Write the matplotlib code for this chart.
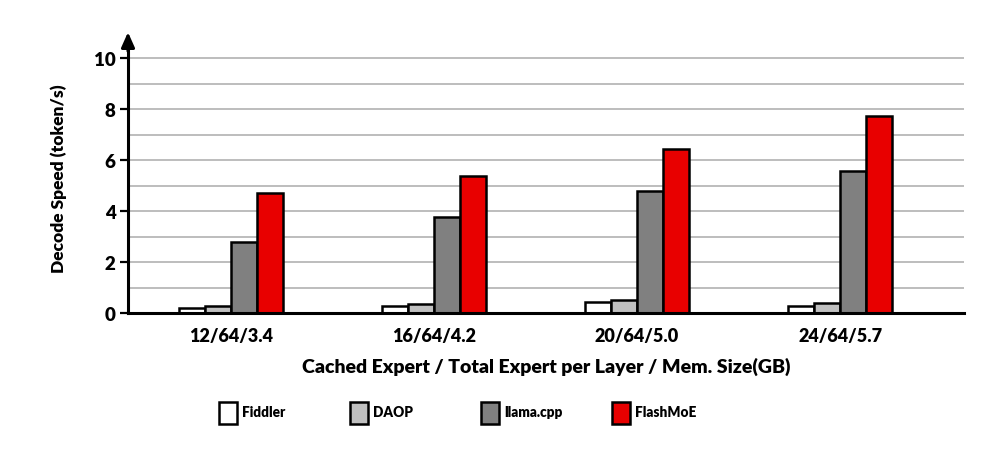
import matplotlib
matplotlib.use("Agg")
import matplotlib.pyplot as plt
from matplotlib.patches import Rectangle

plt.rcParams['font.family'] = ['Lato', 'DejaVu Sans']
plt.rcParams['font.weight'] = 'heavy'

categories = ["12/64/3.4", "16/64/4.2", "20/64/5.0", "24/64/5.7"]
series_names = ["Fiddler", "DAOP", "llama.cpp", "FlashMoE"]
fiddler = [0.21, 0.28, 0.44, 0.29]
daop = [0.26, 0.37, 0.50, 0.39]
llama = [2.80, 3.77, 4.79, 5.57]
flashmoe = [4.71, 5.39, 6.44, 7.75]
values = [fiddler, daop, llama, flashmoe]
colors = ["#ffffff", "#c0c0c0", "#808080", "#e80000"]
yticks = [0, 2, 4, 6, 8, 10]
FW = "heavy"

W, H = 997, 460
fig = plt.figure(figsize=(W / 100, H / 100), dpi=100)
ax = fig.add_axes([128 / W, 1 - 314 / H, (964 - 128) / W, (314 - 44) / H])

bw = 0.128
n = len(series_names)
for k, (name, vals, c) in enumerate(zip(series_names, values, colors)):
    xs = [i + (k - (n - 1) / 2) * bw for i in range(len(categories))]
    ax.bar(xs, vals, width=bw, color=c, edgecolor="black", linewidth=1.8,
           label=name, zorder=3)

ax.set_xlim(-0.507, 3.61)
ax.set_ylim(0, 10.6)
for v in range(1, 11):
    ax.axhline(v, color="#bdbdbd", linewidth=1.4, zorder=1)

ax.set_yticks(yticks)
ax.set_yticklabels([str(t) for t in yticks], fontsize=13.5, fontweight=FW)
ax.set_xticks(range(len(categories)))
ax.set_xticklabels(categories, fontsize=13, fontweight=FW)
ax.tick_params(axis="x", length=0, pad=10)
ax.tick_params(axis="y", length=6, width=1.6, pad=3)

for s in ["top", "right"]:
    ax.spines[s].set_visible(False)
ax.spines["left"].set_linewidth(2.2)
ax.spines["bottom"].set_linewidth(2.2)
ax.spines["left"].set_zorder(5)
ax.spines["bottom"].set_zorder(5)

# arrow on y axis
ax.annotate("", xy=(0, 1.04), xytext=(0, 0.97), xycoords="axes fraction",
            arrowprops=dict(arrowstyle="-|>,head_length=0.9,head_width=0.4",
                            color="black", lw=2.2, shrinkA=0, shrinkB=0),
            annotation_clip=False)

ax.set_ylabel("Decode Speed (token/s)", fontsize=12.5, fontweight=FW, labelpad=19)
ax.set_xlabel("Cached Expert / Total Expert per Layer / Mem. Size(GB)",
              fontsize=14, fontweight=FW, labelpad=9)

# legend
for k, (name, c) in enumerate(zip(series_names, colors)):
    x0 = 219 + 131 * k
    fig.patches.append(Rectangle((x0 / W, 1 - 425 / H), 18 / W, 22 / H,
                                 transform=fig.transFigure, facecolor=c,
                                 edgecolor="black", linewidth=1.8))
    fig.text((x0 + 23) / W, 1 - 413 / H, name, fontsize=9.8, fontweight=FW,
             va="center", ha="left")

fig.savefig("out.png", dpi=100)
